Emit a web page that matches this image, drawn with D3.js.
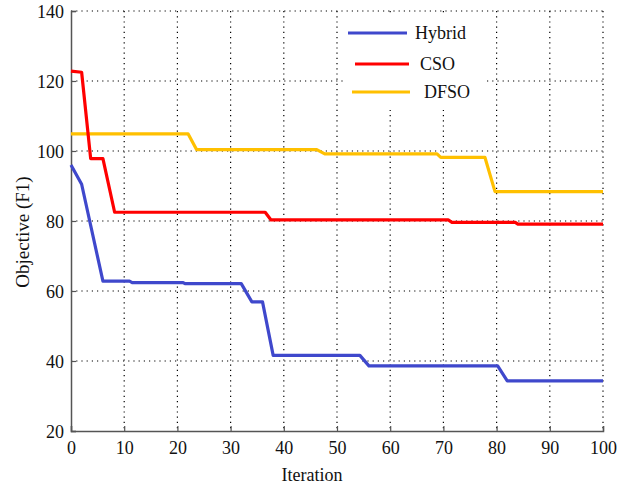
<!DOCTYPE html>
<html>
<head>
<meta charset="utf-8">
<script src="https://cdn.jsdelivr.net/npm/d3@7"></script>
<style>
  body { margin: 0; background: #fff; }
  text { font-family: "Liberation Serif", "DejaVu Serif", serif; fill: #111; }
</style>
</head>
<body>
<script>
// Constant
const w = 625;
const h = 486;
const margin = { top: 11, right: 22, bottom: 55, left: 71 };

// Data
const hybridX = [0, 2, 6, 11, 11.5, 21, 21.5, 32, 34, 36, 38, 54.3, 56, 80.2, 82, 100];
const hybridY = [96, 90.5, 62.8, 62.8, 62.4, 62.4, 62.1, 62.1, 56.9, 56.9, 41.6, 41.6, 38.6, 38.6, 34.3, 34.3];
const csoX = [0, 2, 3.7, 6, 8.2, 36.5, 37.6, 70.9, 71.6, 83.5, 84, 100];
const csoY = [122.8, 122.5, 97.8, 97.8, 82.5, 82.5, 80.3, 80.3, 79.6, 79.6, 79.1, 79.1];
const dfsoX = [0, 22, 23.6, 46.2, 47.7, 68.8, 69.5, 77.8, 79.7, 100];
const dfsoY = [104.9, 104.9, 100.4, 100.4, 99.2, 99.2, 98.2, 98.2, 88.4, 88.4];
const xTicks = [0, 10, 20, 30, 40, 50, 60, 70, 80, 90, 100];
const yTicks = [20, 40, 60, 80, 100, 120, 140];
const seriesNames = ['Hybrid', 'CSO', 'DFSO'];
const seriesColors = ['#3f48cc', '#ff0000', '#ffc000'];

const series = [
  { name: seriesNames[0], color: seriesColors[0], xs: hybridX, ys: hybridY },
  { name: seriesNames[1], color: seriesColors[1], xs: csoX, ys: csoY },
  { name: seriesNames[2], color: seriesColors[2], xs: dfsoX, ys: dfsoY }
];

var svg = d3.select('body')
  .append('svg')
  .attr('width', w)
  .attr('height', h);

var x = d3.scaleLinear().domain([0, 100]).range([margin.left, w - margin.right]);
var y = d3.scaleLinear().domain([20, 140]).range([h - margin.bottom, margin.top]);

// grid (dotted)
svg.append('g')
  .selectAll('line')
  .data(xTicks.slice(1))
  .enter()
  .append('line')
  .attr('x1', d => x(d)).attr('x2', d => x(d))
  .attr('y1', y(140)).attr('y2', y(20))
  .attr('stroke', '#000')
  .attr('stroke-width', 1.2)
  .attr('stroke-dasharray', '1.2,4');

svg.append('g')
  .selectAll('line')
  .data(yTicks.slice(1))
  .enter()
  .append('line')
  .attr('x1', x(0)).attr('x2', x(100))
  .attr('y1', d => y(d)).attr('y2', d => y(d))
  .attr('stroke', '#000')
  .attr('stroke-width', 1.2)
  .attr('stroke-dasharray', '1.2,4');

// legend background hides the grid behind it
svg.append('rect')
  .attr('x', 343).attr('y', 14)
  .attr('width', 140).attr('height', 96)
  .attr('fill', '#fff');

// axes
var xAxis = d3.axisBottom(x).tickValues(xTicks).tickSize(-5).tickPadding(9).tickFormat(d3.format('d'));
var yAxis = d3.axisLeft(y).tickValues(yTicks).tickSize(-5).tickPadding(7).tickFormat(d3.format('d'));

var gx = svg.append('g')
  .attr('transform', 'translate(0,' + y(20) + ')')
  .call(xAxis);
var gy = svg.append('g')
  .attr('transform', 'translate(' + x(0) + ',0)')
  .call(yAxis);

[gx, gy].forEach(g => {
  g.select('.domain').attr('stroke', '#555').attr('stroke-width', 1.5);
  g.selectAll('.tick line').attr('stroke', '#555').attr('stroke-width', 1.2);
  g.selectAll('.tick text')
    .style('font-family', '"Liberation Serif", serif')
    .style('font-size', '18px')
    .attr('fill', '#111');
});
gx.selectAll('.tick text').attr('dy', '0.8em');
gy.selectAll('.tick text').attr('dy', '0.35em');

// lines
var line = d3.line()
  .x(d => x(d[0]))
  .y(d => y(d[1]));

svg.append('g')
  .selectAll('path')
  .data(series.slice().reverse())
  .enter()
  .append('path')
  .attr('d', d => line(d.xs.map((v, i) => [v, d.ys[i]])))
  .attr('fill', 'none')
  .attr('stroke', d => d.color)
  .attr('stroke-width', 3.2)
  .attr('stroke-linejoin', 'round');

// legend
const legendRows = [
  { x1: 348, x2: 407, y: 33, tx: 415 },
  { x1: 355, x2: 409, y: 64, tx: 420 },
  { x1: 352, x2: 410, y: 92, tx: 424 }
];
var legend = svg.append('g')
  .selectAll('g')
  .data(series)
  .enter()
  .append('g');

legend.append('line')
  .attr('x1', (d, i) => legendRows[i].x1)
  .attr('x2', (d, i) => legendRows[i].x2)
  .attr('y1', (d, i) => legendRows[i].y)
  .attr('y2', (d, i) => legendRows[i].y)
  .attr('stroke', d => d.color)
  .attr('stroke-width', 3.2);

legend.append('text')
  .attr('x', (d, i) => legendRows[i].tx)
  .attr('y', (d, i) => legendRows[i].y)
  .attr('dy', '0.35em')
  .style('font-size', '18px')
  .text(d => d.name);

// axis labels
svg.append('text')
  .attr('x', 312)
  .attr('y', 475)
  .attr('dy', '0.35em')
  .attr('text-anchor', 'middle')
  .style('font-size', '18px')
  .text('Iteration');

svg.append('text')
  .attr('transform', 'translate(22,232) rotate(-90)')
  .attr('dy', '0.35em')
  .attr('text-anchor', 'middle')
  .style('font-size', '19px')
  .text('Objective (F1)');
</script>
</body>
</html>
